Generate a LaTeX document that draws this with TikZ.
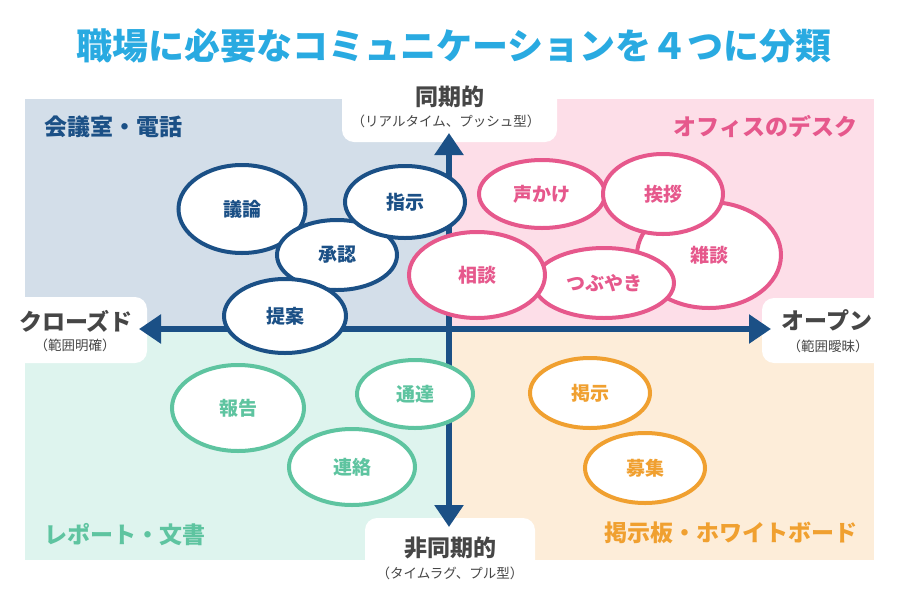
\documentclass[tikz,border=0pt]{standalone}
\usepackage{fontspec}
\setmainfont{Noto Sans CJK JP}
\usetikzlibrary{shapes.geometric, arrows.meta}
\definecolor{navy}{RGB}{27,80,134}
\definecolor{rose}{RGB}{230,88,140}
\definecolor{mint}{RGB}{94,196,160}
\definecolor{amber}{RGB}{240,160,48}
\definecolor{sky}{RGB}{41,170,225}
\definecolor{ink}{RGB}{70,70,70}
\definecolor{bgblue}{RGB}{211,222,233}
\definecolor{bgpink}{RGB}{253,222,232}
\definecolor{bggreen}{RGB}{222,244,238}
\definecolor{bgorange}{RGB}{253,237,217}

\begin{document}
\begin{tikzpicture}[x=1pt, y=-1pt,
    bub/.style={draw=#1, text=#1, shape=ellipse, fill=white, line width=4pt,
        font=\fontsize{19}{19}\selectfont\bfseries},
    quad/.style={text=#1, font=\fontsize{23}{23}\selectfont\bfseries},
    axlab/.style={text=ink, font=\fontsize{23}{23}\selectfont\bfseries},
    sublab/.style={text=ink, font=\fontsize{13.5}{13.5}\selectfont},
    axis/.style={navy, line width=6pt,
        {Triangle[length=22pt,width=28pt]}-{Triangle[length=22pt,width=28pt]}}]
    \useasboundingbox (0,0) rectangle (900,600);

    \fill[bgblue] (25,99) rectangle (449,329);
    \fill[bgpink] (449,99) rectangle (874,329);
    \fill[bggreen] (25,329) rectangle (449,560);
    \fill[bgorange] (449,329) rectangle (874,560);
    \fill[white, rounded corners=12pt] (342,60) rectangle (557,142);
    \fill[white, rounded corners=12pt] (-20,297) rectangle (147,363);
    \fill[white, rounded corners=12pt] (762,298) rectangle (920,363);
    \fill[white, rounded corners=12pt] (365,518) rectangle (535,640);

    \coordinate(W) at (139,329);
    \coordinate(E) at (771,329);
    \coordinate(N) at (449,133);
    \coordinate(S) at (449,527);
    \draw[axis] (W) -- (E);
    \draw[axis] (S) -- (N);

    \node(giron)[bub=navy, minimum width=127pt, minimum height=88pt] at (242,209) {議論};
    \node(shonin)[bub=navy, minimum width=120pt, minimum height=70pt] at (337,255) {承認};
    \node(shiji)[bub=navy, minimum width=120pt, minimum height=72pt] at (405,202) {指示};
    \node(teian)[bub=navy, minimum width=122pt, minimum height=74pt] at (285,316) {提案};

    \node(koekake)[bub=rose, minimum width=126pt, minimum height=68pt] at (542,194) {声かけ};
    \node(zatsudan)[bub=rose, minimum width=144pt, minimum height=106pt] at (709,255) {雑談};
    \node(aisatsu)[bub=rose, minimum width=120pt, minimum height=80pt] at (663,194) {挨拶};
    \node(tsubuyaki)[bub=rose, minimum width=140pt, minimum height=70pt] at (604,283) {つぶやき};
    \node(soudan)[bub=rose, minimum width=136pt, minimum height=86pt] at (477,275) {相談};

    \node(houkoku)[bub=mint, minimum width=132pt, minimum height=86pt] at (238,408) {報告};
    \node(tsutatsu)[bub=mint, minimum width=116pt, minimum height=68pt] at (415,394) {通達};
    \node(renraku)[bub=mint, minimum width=126pt, minimum height=76pt] at (352,467) {連絡};

    \node(keiji)[bub=amber, minimum width=120pt, minimum height=70pt] at (590,393) {掲示};
    \node(boshu)[bub=amber, minimum width=120pt, minimum height=70pt] at (645,468) {募集};

    \node(title)[text=sky, font=\fontsize{36}{36}\selectfont\bfseries] at (454,46)
        {職場に必要なコミュニケーションを４つに分類};

    \node(kaigi)[quad=navy, anchor=west] at (41,127) {会議室・電話};
    \node(office)[quad=rose, anchor=east] at (861,126) {オフィスのデスク};
    \node(report)[quad=mint, anchor=west] at (41,535) {レポート・文書};
    \node(board)[quad=amber, anchor=east] at (861,533) {掲示板・ホワイトボード};

    \node(sync)[axlab] at (450,97) {同期的};
    \node(syncsub)[sublab] at (446,121) {（リアルタイム、プッシュ型）};
    \node(async)[axlab] at (450,548) {非同期的};
    \node(asyncsub)[sublab] at (450,573) {（タイムラグ、プル型）};
    \node(closed)[axlab] at (76,321) {クローズド};
    \node(closedsub)[sublab] at (75,345) {（範囲明確）};
    \node(open)[axlab] at (827,320) {オープン};
    \node(opensub)[sublab] at (828,346) {（範囲曖昧）};
\end{tikzpicture}
\end{document}
